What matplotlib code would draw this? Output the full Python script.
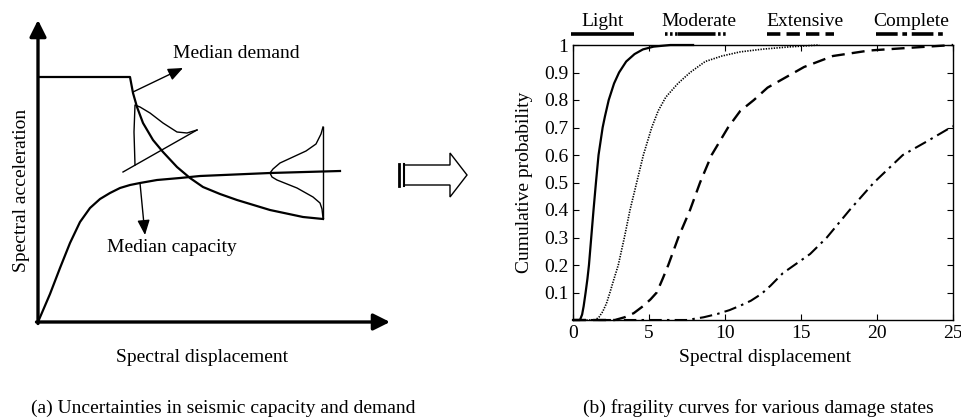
import matplotlib.pyplot as plt
from matplotlib.patches import Polygon

plt.rcParams.update({'font.family': 'Liberation Serif', 'font.size': 14})

# --- (a) schematic: capacity / demand curves (units ~ pixels from origin) ---
capacity_x = [0, 12, 22, 32, 42, 52, 62, 72, 82, 92, 102, 119, 142, 162, 232, 302]
capacity_y = [0, 28, 54, 79, 100, 114, 123, 129, 134, 137, 139, 142, 144, 146, 149, 151]

demand_x = [0, 92, 95, 99, 105, 115, 125, 139, 152, 165, 182, 199, 232, 265, 285]
demand_y = [245, 245, 229, 215, 199, 182, 170, 155, 144, 135, 128, 122, 112, 105, 103]

# demand scatter (pdf hanging off the demand curve)
dpdf_base_x = [85, 159]
dpdf_base_y = [150, 192]
dpdf_x = [97, 96, 97, 102, 112, 125, 139, 149, 159]
dpdf_y = [157, 190, 217, 215, 209, 199, 190, 189, 192]

# capacity scatter (pdf lying sideways on the capacity curve)
cpdf_base_x = [285, 285]
cpdf_base_y = [195, 104]
cpdf_x = [285, 283, 278, 268, 255, 242, 235, 232, 234, 239, 259, 275, 282, 284, 285]
cpdf_y = [195, 188, 178, 171, 165, 159, 153, 149, 145, 142, 134, 125, 119, 113, 104]

# --- (b) fragility curves ---
light_x = [0, 0.46, 0.6, 0.7, 0.83, 0.95, 1.05, 1.2, 1.35, 1.51, 1.68, 1.95, 2.1,
           2.35, 2.7, 3.03, 3.5, 4.05, 4.6, 5.3, 6.4, 7.9]
light_y = [0, 0, 0.02, 0.05, 0.1, 0.15, 0.2, 0.3, 0.4, 0.5, 0.6, 0.7, 0.74,
           0.8, 0.86, 0.9, 0.94, 0.967, 0.984, 0.994, 1.0, 1.0]

moderate_x = [0, 1.45, 1.7, 1.95, 2.2, 2.43, 2.7, 2.98, 3.38, 3.75, 4.19, 4.63, 5.18,
              5.6, 6.1, 6.9, 7.7, 8.7, 9.8, 11.0, 12.5, 14.2, 16.2]
moderate_y = [0, 0, 0.01, 0.03, 0.06, 0.1, 0.15, 0.2, 0.3, 0.4, 0.5, 0.6, 0.7,
              0.76, 0.81, 0.86, 0.9, 0.94, 0.96, 0.975, 0.985, 0.993, 1.0]

extensive_x = [0, 2.76, 3.4, 4.0, 4.6, 5.1, 5.51, 5.9, 6.27, 6.93, 7.7, 8.36, 9.12,
               10.2, 11.0, 11.9, 12.8, 13.6, 15.2, 17.1, 19.5, 22.2, 25]
extensive_y = [0, 0, 0.01, 0.025, 0.05, 0.075, 0.1, 0.15, 0.2, 0.3, 0.4, 0.5, 0.6,
               0.7, 0.76, 0.8, 0.845, 0.87, 0.92, 0.96, 0.98, 0.99, 1.0]

complete_x = [0, 7.5, 8.6, 9.5, 10.3, 11.0, 11.7, 12.4, 13.0, 13.8, 14.7, 15.6, 16.7,
              18.2, 19.8, 21.7, 23.3, 25]
complete_y = [0, 0, 0.01, 0.022, 0.036, 0.052, 0.07, 0.095, 0.125, 0.17, 0.205, 0.24, 0.3,
              0.4, 0.5, 0.6, 0.65, 0.705]

states = ['Light', 'Moderate', 'Extensive', 'Complete']
xticks = [0, 5, 10, 15, 20, 25]
yticks = [0.1, 0.2, 0.3, 0.4, 0.5, 0.6, 0.7, 0.8, 0.9, 1]
ytick_labels = ['0.1', '0.2', '0.3', '0.4', '0.5', '0.6', '0.7', '0.8', '0.9', '1']

W, H = 962, 418
fig = plt.figure(figsize=(W / 100, H / 100), dpi=100)


def box(x0, y0, x1, y1):
    # pixel box -> [left, bottom, width, height] in figure fraction
    return [x0 / W, 1 - y1 / H, (x1 - x0) / W, (y1 - y0) / H]


# overlay in pixel coords for labels and decorations
deco = fig.add_axes([0, 0, 1, 1])
deco.set_xlim(0, W)
deco.set_ylim(H, 0)
deco.axis('off')

# ---------------- panel (a) ----------------
ax1 = fig.add_axes(box(38, 20, 400, 325))
ax1.set_xlim(0, 362)
ax1.set_ylim(-3, 302)
ax1.axis('off')

axis_arrow = dict(arrowstyle='-|>,head_length=0.5,head_width=0.25', lw=2.4, color='k',
                  mutation_scale=20, shrinkA=0, shrinkB=0)
ax1.annotate('', xy=(0, 302), xytext=(0, -1.5), arrowprops=axis_arrow)
ax1.annotate('', xy=(352, 0), xytext=(-1.5, 0), arrowprops=axis_arrow)

ax1.plot(capacity_x, capacity_y, color='k', lw=1.6)
ax1.plot(demand_x, demand_y, color='k', lw=1.6)
ax1.plot(dpdf_base_x, dpdf_base_y, color='k', lw=1.0)
ax1.plot(dpdf_x, dpdf_y, color='k', lw=1.0)
ax1.plot(cpdf_base_x, cpdf_base_y, color='k', lw=1.0)
ax1.plot(cpdf_x, cpdf_y, color='k', lw=1.0)

small_arrow = dict(arrowstyle='-|>,head_length=0.6,head_width=0.25', lw=1.0, color='k',
                   mutation_scale=15, shrinkA=0, shrinkB=0)
ax1.annotate('', xy=(145, 254), xytext=(95, 230), arrowprops=small_arrow)
ax1.annotate('', xy=(107, 87), xytext=(102, 139), arrowprops=small_arrow)
ax1.text(135, 269, 'Median demand', va='center', ha='left')
ax1.text(69, 74, 'Median capacity', va='center', ha='left')

deco.text(22, 190, 'Spectral acceleration', rotation=90, ha='center', va='center')
deco.text(202, 357, 'Spectral displacement', ha='center', va='center')
deco.text(223, 408, '(a) Uncertainties in seismic capacity and demand', ha='center', va='center')

# hollow arrow between the panels
deco.add_patch(Polygon([(404, 165), (450, 165), (450, 153), (467, 175), (450, 197),
                        (450, 185), (404, 185)], closed=True, fill=False, lw=1.0, ec='k'))
deco.plot([399.5, 399.5], [164, 186], color='k', lw=2.0)
deco.plot([404.5, 404.5], [164, 186], color='k', lw=1.5)

# ---------------- panel (b) ----------------
ax2 = fig.add_axes(box(573, 45, 953, 320))
ax2.plot(light_x, light_y, color='k', lw=1.6, ls='-', clip_on=False)
ax2.plot(moderate_x, moderate_y, color='k', lw=1.2, ls=(0, (0.8, 0.8)), clip_on=False)
ax2.plot(extensive_x, extensive_y, color='k', lw=1.7, ls=(0, (5.5, 3)), clip_on=False)
ax2.plot(complete_x, complete_y, color='k', lw=1.5, ls=(0, (6, 2.5, 1.2, 2.5)), clip_on=False)

ax2.set_xlim(0, 25)
ax2.set_ylim(0, 1)
ax2.set_xticks(xticks)
ax2.set_yticks(yticks)
ax2.set_yticklabels(ytick_labels)
ax2.tick_params(direction='in', length=4, top=True, right=True, width=0.8)
for s in ax2.spines.values():
    s.set_linewidth(1.0)

deco.text(525, 182, 'Cumulative probability', rotation=90, ha='center', va='center')
deco.text(765, 358, 'Spectral displacement', ha='center', va='center')
deco.text(758, 408, '(b) fragility curves for various damage states', ha='center', va='center')

# damage state key above the axes
label_x = [603, 699, 805, 911]
for name, lx in zip(states, label_x):
    deco.text(lx, 21, name, ha='center', va='center')
deco.plot([571, 634], [34, 34], color='k', lw=2.6, solid_capstyle='butt')
deco.plot([665, 678], [34, 34], color='k', lw=2.6, ls=(0, (0.7, 0.7)))
deco.plot([678, 713], [34, 34], color='k', lw=2.6, solid_capstyle='butt')
deco.plot([713, 727], [34, 34], color='k', lw=2.6, ls=(0, (0.7, 0.7)))
deco.plot([767, 834], [34, 34], color='k', lw=2.6, ls=(0, (3.7, 1.7)))
deco.plot([876, 947], [34, 34], color='k', lw=2.6, ls=(0, (6, 1.3, 1.3, 1.3)))

fig.savefig('out.png', dpi=100)
